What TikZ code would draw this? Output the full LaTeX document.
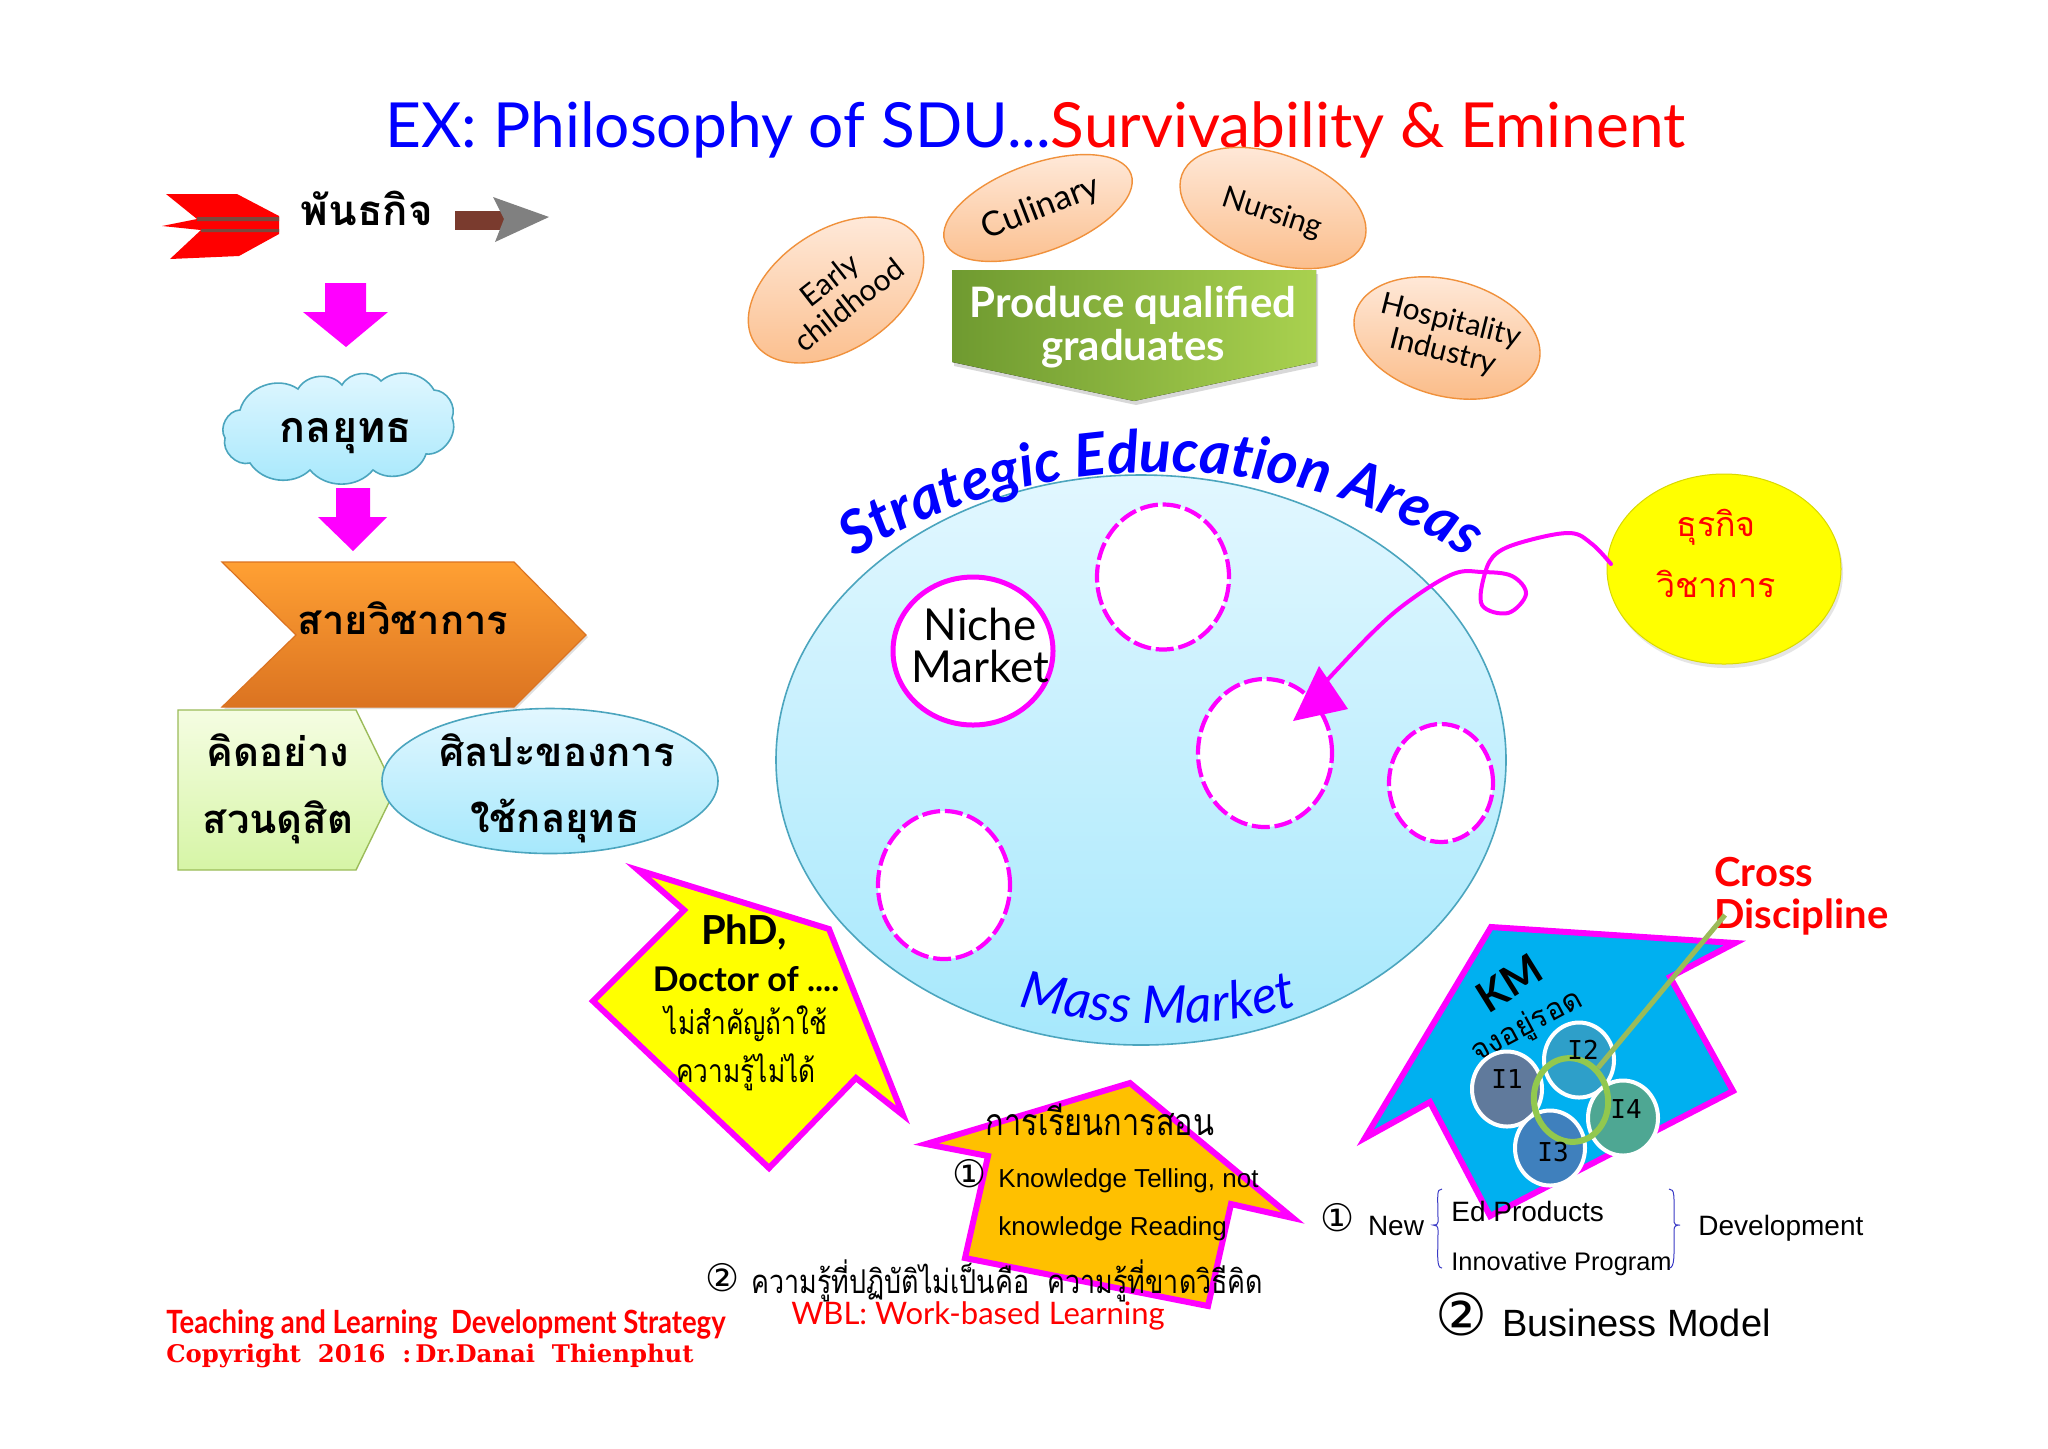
\documentclass[tikz,border=0pt]{standalone}
\usepackage{fontspec}
\setmainfont{Liberation Sans}
\newfontfamily\thaib[Script=Thai]{Loma}
\newfontfamily\thain[Script=Thai,FakeStretch=0.82]{Loma}
\newfontfamily\comic{Lato}
\newfontfamily\comicc[FakeStretch=0.86]{Lato}
\newfontfamily\symb{DejaVu Sans}
\newfontfamily\monof{DejaVu Sans Mono}
\newfontfamily\slab{DejaVu Serif}
\usetikzlibrary{shapes.geometric,decorations.text,shadows,calc}
\newcommand{\fs}[1]{\fontsize{#1}{#1}\selectfont}
\definecolor{mag}{HTML}{FF00FF}
\definecolor{pureblue}{HTML}{0000FF}
\definecolor{purered}{HTML}{FF0000}
\definecolor{pureyellow}{HTML}{FFFF00}
\definecolor{tealline}{HTML}{4BA5BE}
\definecolor{lb}{HTML}{E2F7FF}
\definecolor{lbb}{HTML}{A6E8FC}
\definecolor{peacht}{HTML}{FFEBDD}
\definecolor{peachb}{HTML}{FBBE8C}
\definecolor{peachl}{HTML}{F0913C}
\definecolor{chevt}{HTML}{FFA033}
\definecolor{chevb}{HTML}{DB7321}
\definecolor{pentt}{HTML}{F5FDE2}
\definecolor{pentb}{HTML}{D6F5A6}
\definecolor{pentl}{HTML}{9BBB59}
\definecolor{prodl}{HTML}{6F9A30}
\definecolor{prodr}{HTML}{A9D14F}
\definecolor{brownband}{HTML}{7A3B2E}
\definecolor{housefill}{HTML}{00B0F0}
\definecolor{orfill}{HTML}{FFC000}
\tikzset{
  oval/.style 2 args={ellipse,minimum width=#1*0.5pt,minimum height=#2*0.5pt,inner sep=0pt,align=center},
  peach/.style={draw=peachl,line width=0.7pt,top color=peacht,bottom color=peachb},
  peachtext/.style={inner sep=0pt,align=center,font=\comic\fs{15},text=black},
  blockarrow/.style={fill=mag,draw=none},
  outlined/.style={draw=mag,line width=3pt,line join=miter,miter limit=10},
  dashoval/.style={draw=mag,fill=white,line width=2.1pt,dash pattern=on 9pt off 2.4pt},
  ball/.style={draw=white,line width=2pt},
  balltext/.style={inner sep=0pt,font=\monof\fs{13},text=black},
  thaibold/.style={font=\thaib\bfseries\fs{20},text=black,inner sep=0pt},
  thaithin/.style={font=\thain\fs{14},text=black,inner sep=0pt},
  arial/.style={font=\fs{14},text=black,inner sep=0pt},
  circnum/.style={font=\symb\fs{19},text=black,inner sep=0pt},
}
\begin{document}
\begin{tikzpicture}[x=0.5pt,y=-0.5pt]
\useasboundingbox (0,0) rectangle (2048,1448);
\fill[white] (0,0) rectangle (2048,1448);

% title
\node[inner sep=0pt,anchor=west,font=\comic\fs{31.1}] (title) at (385,130) {\textcolor{pureblue}{EX: Philosophy of SDU...}\textcolor{purered}{Survivability \& Eminent}};

% mission row
\fill[purered] (166,194) -- (237,194) -- (279,216) -- (279,234) -- (239,256) -- (170,259) -- (201,230) -- (162,226) -- (197,219) -- cycle;
\fill[brownband!80!gray] (197,217) rectangle (279,221) (201,229) rectangle (279,232);
\node[thaibold,font=\thaib\bfseries\fs{21}] (mission) at (367,208) {พันธกิจ};
\fill[brownband] (455,211) rectangle (514,230);
\fill[gray] (493,197) -- (549,217) -- (495,242) -- (504,219) -- cycle;

% magenta arrows
\fill[blockarrow] (325,283) -- (366,283) -- (366,312) -- (388,312) -- (346,347) -- (303,312) -- (325,312) -- cycle;
\fill[blockarrow] (336,488) -- (370,488) -- (370,517) -- (387,517) -- (353,551) -- (318,517) -- (336,517) -- cycle;

% cloud
\draw[draw=tealline,line width=0.8pt,top color=lb,bottom color=lbb]
  (240,410) to[bend left=55] (298,389) to[bend left=55] (342,385) to[bend left=55] (381,381)
  to[bend left=50] (434,390) to[bend left=55] (452,418) to[bend left=60] (426,454)
  to[bend left=55] (373,470) to[bend left=50] (310,470) to[bend left=50] (250,463)
  to[bend left=60] (225,438) to[bend left=60] cycle;
\node[thaibold,font=\thaib\bfseries\fs{21.5}] (strategy) at (346,436) {กลยุทธ};

% chevron
\draw[draw=chevb,line width=0.6pt,top color=chevt,bottom color=chevb,drop shadow={shadow xshift=1pt,shadow yshift=-1pt,opacity=.25}]
  (222,562) -- (514,562) -- (586,635) -- (514,707) -- (222,707) -- (296,635) -- cycle;
\node[thaibold] (faculty) at (403,618) {สายวิชาการ};

% pentagon
\draw[draw=pentl,line width=0.7pt,top color=pentt,bottom color=pentb]
  (178,710) -- (356,710) -- (395,790) -- (356,870) -- (178,870) -- cycle;
\node[thaibold] (think1) at (278,750) {คิดอย่าง};
\node[thaibold] (think2) at (278,822) {สวนดุสิต};

% art ellipse
\node[oval={336}{145},draw=tealline,line width=0.8pt,top color=lb,bottom color=lbb] (art) at (550,781) {};
\node[thaibold] (art1) at (557,750) {ศิลปะของการ};
\node[thaibold] (art2) at (555,821) {ใช้กลยุทธ};

% peach ovals
\node[oval={194}{120},peach,rotate=33] (early) at (836,290) {};
\node[peachtext,rotate=38] (earlyt) at (839,292) {Early\\[1pt]childhood};
\node[oval={198}{88},peach,rotate=20] (culinary) at (1038,208) {};
\node[peachtext,rotate=21,font=\comic\fs{17}] (culinaryt) at (1041,208) {Culinary};
\node[oval={194}{108},peach,rotate=-20] (nursing) at (1273,208) {};
\node[peachtext,rotate=-18] (nursingt) at (1272,214) {Nursing};
\node[oval={190}{116},peach,rotate=-15] (hosp) at (1447,338) {};
\node[peachtext,rotate=-14] (hospt) at (1447,337) {Hospitality\\[1pt]Industry};

% produce arrow
\fill[left color=prodl,right color=prodr,drop shadow={shadow xshift=1pt,shadow yshift=-2pt,opacity=.3}]
  (952,270) -- (1316,270) -- (1316,362) -- (1134,401) -- (952,362) -- cycle;
\node[inner sep=0pt,font=\comic\bfseries\fs{21},text=white,align=center] (produce) at (1133,327) {Produce qualified\\[0.5pt]graduates};

% big ellipse
\node[oval={730}{570},draw=tealline,line width=0.8pt,top color=lb,bottom color=lbb] (sea) at (1141,760) {};
\node[oval={132}{145},dashoval] (d1) at (1163,577) {};
\node[oval={134}{148},dashoval] (d2) at (1265,753) {};
\node[oval={104}{118},dashoval] (d3) at (1441,783) {};
\node[oval={132}{148},dashoval] (d4) at (944,885) {};
\node[oval={160}{148},draw=mag,fill=white,line width=2.5pt] (niche) at (973,651) {};
\node[inner sep=0pt,align=center,font=\comic\fs{22}] (nichet) at (980,645) {Niche\\[-1pt]Market};

% curved texts
\path[decorate,decoration={text along path,text align=center,text={|\comic\itshape\bfseries\fs{29.5}\color{pureblue}|Strategic Education Areas}}]
  (806,595) .. controls (990,431) and (1332,431) .. (1516,595);
\path[decorate,decoration={text along path,text align=center,text={|\comic\itshape\fs{26}\color{pureblue}|Mass Market}}]
  (990,998) .. controls (1100,1032) and (1220,1032) .. (1326,998);

% yellow circle and squiggle
\node[oval={234}{190},fill=pureyellow,draw=pureyellow!85!black,line width=0.5pt,drop shadow={shadow xshift=1pt,shadow yshift=-2pt,opacity=.2}] (biz) at (1724,569) {};
\node[inner sep=0pt,font=\thaib\fs{17},text=purered] (biz1) at (1716,527) {ธุรกิจ};
\node[inner sep=0pt,font=\thaib\fs{17},text=purered] (biz2) at (1716,584) {วิชาการ};
\coordinate (sqs) at (1611,564);
\coordinate (sqe) at (1318,690);
\draw[mag,line width=2pt,line cap=round] plot[smooth,tension=0.6] coordinates {(sqs) (1592,544) (1570,533) (1526,541) (1497,553) (1485,573) (1482,605) (1508,613) (1526,594) (1512,576) (1482,572) (1453,574) (1409,601) (1372,633) (sqe)};
\fill[mag] (1293,721) -- (1319,666) -- (1348,709) -- cycle;

% PhD arrow
\draw[outlined,fill=pureyellow] (638,870) -- (829,929) -- (903,1115) -- (856,1078) -- (769,1168) -- (593,1001) -- (684,910) -- cycle;
\node[inner sep=0pt,font=\comic\bfseries\fs{20}] (phd) at (744,932) {PhD,};
\node[inner sep=0pt,font=\comic\bfseries\fs{17}] (doctor) at (746,979) {Doctor of ....};
\node[thaithin,font=\thain\fs{16}] (phd1) at (746,1024) {ไม่สำคัญถ้าใช้};
\node[thaithin,font=\thain\fs{16}] (phd2) at (746,1072) {ความรู้ไม่ได้};

% orange arrow
\draw[outlined,fill=orfill] (926,1144) -- (1130,1083) -- (1293,1218) -- (1231,1204) -- (1208,1306) -- (965,1258) -- (988,1156) -- cycle;
\node[thaithin,font=\thain\fs{18.7}] (teach) at (1100,1120) {การเรียนการสอน};
\node[circnum] (n1) at (970,1174) {①};
\node[arial,anchor=west,font=\fs{13}] (kt) at (998,1181) {Knowledge Telling, not};
\node[arial,anchor=west,font=\fs{13}] (kr) at (998,1229) {knowledge Reading};
\node[circnum] (n2) at (723,1278) {②};
\node[thaithin,anchor=west,font=\thain\fs{16.4}] (tacit) at (751,1281) {ความรู้ที่ปฏิบัติไม่เป็นคือ\ \ ความรู้ที่ขาดวิธีคิด};
\node[inner sep=0pt,font=\comic\fs{15.5},text=purered] (wbl) at (978,1316) {WBL: Work-based Learning};

% copyright
\node[inner sep=0pt,anchor=west,font=\comicc\bfseries\fs{16},text=purered] (tl) at (166,1324) {Teaching and Learning\ \ Development Strategy};
\node[inner sep=0pt,anchor=west,font=\slab\bfseries\fs{12.15},text=purered] (copy) at (166,1356) {Copyright\ \ 2016\ \ :\,Dr.Danai\ \ Thienphut};

% KM house
\draw[outlined,fill=housefill] (1491,927) -- (1735,943) -- (1670,977) -- (1733,1091) -- (1490,1216) -- (1430,1102) -- (1365,1138) -- cycle;
\node[inner sep=0pt,rotate=32,font=\comic\bfseries\fs{21}] (km) at (1509,983) {KM};
\node[inner sep=0pt,rotate=28,font=\thaib\fs{15}] (surv) at (1527,1027) {จงอยู่รอด};
\node[oval={70}{75},ball,fill={rgb,255:red,96;green,122;blue,156}] (i1) at (1507,1089) {};
\node[oval={70}{75},ball,fill={rgb,255:red,46;green,159;blue,201}] (i2) at (1579,1060) {};
\node[oval={70}{75},ball,fill={rgb,255:red,63;green,128;blue,189}] (i3) at (1550,1148) {};
\node[oval={70}{75},ball,fill={rgb,255:red,78;green,167;blue,147}] (i4) at (1623,1118) {};
\node[oval={74}{84},draw={rgb,255:red,146;green,200;blue,78},line width=3pt,rotate=10] (focus) at (1571,1100) {};
\node[balltext] (i1t) at (1507,1079) {I1};
\node[balltext] (i2t) at (1583,1050) {I2};
\node[balltext] (i3t) at (1553,1152) {I3};
\node[balltext] (i4t) at (1626,1109) {I4};
\node[inner sep=0pt,anchor=west,font=\comic\bfseries\fs{20},text=purered,align=left] (cross) at (1714,896) {Cross\\[1pt]Discipline};
\coordinate (crossend) at (1725,915);
\draw[draw={rgb,255:red,155;green,187;blue,89},line width=2.5pt] (focus.40) -- (crossend);

% business model
\node[circnum] (m1) at (1338,1218) {①};
\node[arial] (new) at (1396,1226) {New};
\node[arial,anchor=west] (ed) at (1451,1211) {Ed Products};
\node[arial,anchor=west,font=\fs{12.7}] (innov) at (1451,1264) {Innovative Program};
\draw[draw=pureblue!55!gray,line width=0.5pt] (1442,1189) .. controls (1436,1189) and (1438,1195) .. (1438,1222) .. controls (1438,1225) and (1436,1225) .. (1433,1225) .. controls (1436,1225) and (1438,1226) .. (1438,1230) .. controls (1438,1255) and (1436,1268) .. (1442,1268);
\draw[draw=pureblue!55!gray,line width=0.5pt] (1669,1189) .. controls (1675,1189) and (1674,1195) .. (1674,1222) .. controls (1674,1225) and (1676,1225) .. (1680,1225) .. controls (1676,1225) and (1674,1226) .. (1674,1230) .. controls (1674,1255) and (1675,1268) .. (1669,1268);
\node[arial,anchor=west] (dev) at (1698,1228) {Development};
\node[circnum,font=\symb\fs{29}] (m2) at (1461,1314) {②};
\node[arial,anchor=west,font=\fs{19}] (bm) at (1502,1323) {Business Model};
\end{tikzpicture}
\end{document}
